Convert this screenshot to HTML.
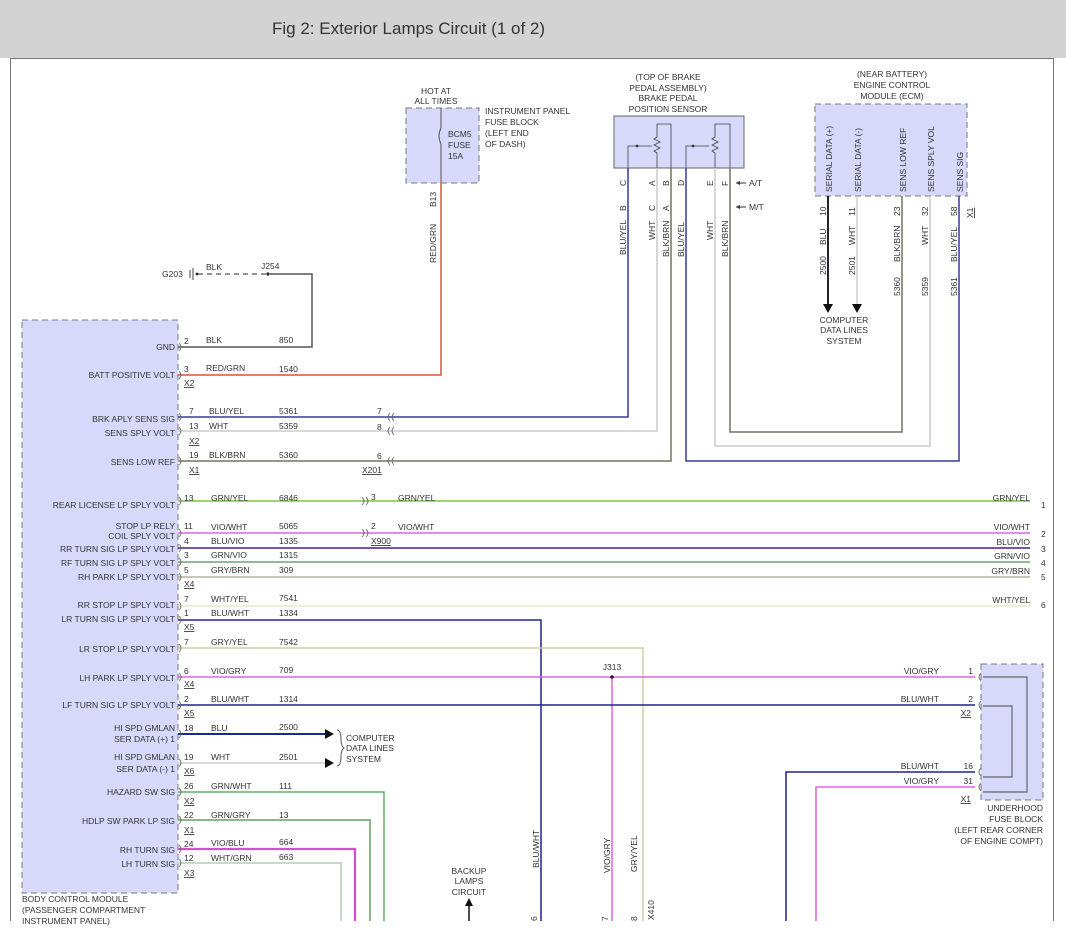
<!DOCTYPE html>
<html><head><meta charset="utf-8"><style>
html,body{margin:0;padding:0;background:#fff;width:1066px;height:932px;overflow:hidden}
svg{display:block}
text{font-family:"Liberation Sans",Arial,sans-serif;font-size:8.5px;fill:#333}
.t{font-size:17px;fill:#333}
.r{text-anchor:end}
.m{text-anchor:middle}
</style></head><body>
<svg width="1066" height="932" viewBox="0 0 1066 932" xmlns="http://www.w3.org/2000/svg">
<rect x="0" y="0" width="1066" height="58" fill="#d3d3d3"/>
<text x="272" y="34" class="t">Fig 2: Exterior Lamps Circuit (1 of 2)</text>
<polyline points="10.5,921 10.5,58.5 1053.5,58.5 1053.5,921" fill="none" stroke="#777" stroke-width="1"/>

<rect x="22" y="320" width="156" height="573" fill="#d8d8fb" stroke="#777" stroke-dasharray="6,4"/>
<text x="22" y="902">BODY CONTROL MODULE</text>
<text x="22" y="913">(PASSENGER COMPARTMENT</text>
<text x="22" y="924">INSTRUMENT PANEL)</text>

<rect x="406" y="108" width="73" height="75" fill="#d8d8fb" stroke="#777" stroke-dasharray="6,4"/>
<line x1="441" y1="108" x2="441" y2="128" stroke="#555"/>
<path d="M441,128 q-4,8 0,16" fill="none" stroke="#555"/>
<line x1="441" y1="144" x2="441" y2="183" stroke="#555"/>
<text x="448" y="137">BCM5</text><text x="448" y="148">FUSE</text><text x="448" y="159">15A</text>
<text x="436" y="94" class="m">HOT AT</text><text x="436" y="104" class="m">ALL TIMES</text>
<text x="485" y="114">INSTRUMENT PANEL</text><text x="485" y="125">FUSE BLOCK</text><text x="485" y="136">(LEFT END</text><text x="485" y="147">OF DASH)</text>
<text transform="translate(436,207) rotate(-90)">B13</text>
<text transform="translate(436,263) rotate(-90)">RED/GRN</text>

<text x="668" y="80" class="m">(TOP OF BRAKE</text>
<text x="668" y="91" class="m">PEDAL ASSEMBLY)</text>
<text x="668" y="101" class="m">BRAKE PEDAL</text>
<text x="668" y="112" class="m">POSITION SENSOR</text>
<rect x="614" y="116" width="130" height="52" fill="#d8d8fb" stroke="#666"/>
<g fill="none" stroke="#444" stroke-width="0.8">
<polyline points="628,168 628,146 652,146"/>
<path d="M657,168 V153 l-3,-2 6,-3 -6,-3 6,-3 -6,-3 3,-2 V124 H671 V168"/>
<polyline points="686,168 686,146 709,146"/>
<path d="M715,168 V153 l-3,-2 6,-3 -6,-3 6,-3 -6,-3 3,-2 V124 H730 V168"/>
</g>
<circle cx="637" cy="146" r="1.4" fill="#333"/><circle cx="693" cy="146" r="1.4" fill="#333"/>
<g font-size="8"><text transform="translate(626,186) rotate(-90)">C</text><text transform="translate(655,186) rotate(-90)">A</text><text transform="translate(669,186) rotate(-90)">B</text><text transform="translate(684,186) rotate(-90)">D</text><text transform="translate(713,186) rotate(-90)">E</text><text transform="translate(728,186) rotate(-90)">F</text>
<text transform="translate(626,211) rotate(-90)">B</text><text transform="translate(655,211) rotate(-90)">C</text><text transform="translate(669,211) rotate(-90)">A</text></g>
<text transform="translate(626,255) rotate(-90)">BLU/YEL</text>
<text transform="translate(655,240) rotate(-90)">WHT</text>
<text transform="translate(669,257) rotate(-90)">BLK/BRN</text>
<text transform="translate(684,257) rotate(-90)">BLU/YEL</text>
<text transform="translate(713,240) rotate(-90)">WHT</text>
<text transform="translate(728,257) rotate(-90)">BLK/BRN</text>
<text x="749" y="186">A/T</text><text x="749" y="210">M/T</text>
<line x1="736" y1="183" x2="746" y2="183" stroke="#333"/><path d="M736,183 l4,-2 v4z" fill="#333"/>
<line x1="736" y1="207" x2="746" y2="207" stroke="#333"/><path d="M736,207 l4,-2 v4z" fill="#333"/>

<text x="892" y="77" class="m">(NEAR BATTERY)</text>
<text x="892" y="88" class="m">ENGINE CONTROL</text>
<text x="892" y="99" class="m">MODULE (ECM)</text>
<rect x="815" y="104" width="152" height="92" fill="#d8d8fb" stroke="#777" stroke-dasharray="6,4"/>
<text transform="translate(832,192) rotate(-90)">SERIAL DATA (+)</text>
<text transform="translate(861,192) rotate(-90)">SERIAL DATA (-)</text>
<text transform="translate(906,192) rotate(-90)">SENS LOW REF</text>
<text transform="translate(934,192) rotate(-90)">SENS SPLY VOL</text>
<text transform="translate(963,192) rotate(-90)">SENS SIG</text>
<g font-size="8"><text transform="translate(826,216) rotate(-90)">10</text><text transform="translate(855,216) rotate(-90)">11</text><text transform="translate(900,216) rotate(-90)">23</text><text transform="translate(928,216) rotate(-90)">32</text><text transform="translate(957,216) rotate(-90)">58</text><text transform="translate(973,218) rotate(-90)" text-decoration="underline">X1</text>
<text transform="translate(826,245) rotate(-90)">BLU</text><text transform="translate(855,245) rotate(-90)">WHT</text><text transform="translate(900,262) rotate(-90)">BLK/BRN</text><text transform="translate(928,245) rotate(-90)">WHT</text><text transform="translate(957,262) rotate(-90)">BLU/YEL</text>
<text transform="translate(826,275) rotate(-90)">2500</text><text transform="translate(855,275) rotate(-90)">2501</text><text transform="translate(900,296) rotate(-90)">5360</text><text transform="translate(928,296) rotate(-90)">5359</text><text transform="translate(957,296) rotate(-90)">5361</text></g>
<line x1="828" y1="196" x2="828" y2="304" stroke="#223" stroke-width="2"/><path d="M823,304 h10 l-5,9z" fill="#111"/>
<line x1="857" y1="196" x2="857" y2="304" stroke="#ccc" stroke-width="1.5"/><path d="M852,304 h10 l-5,9z" fill="#111"/>
<text x="844" y="323" class="m">COMPUTER</text><text x="844" y="333" class="m">DATA LINES</text><text x="844" y="344" class="m">SYSTEM</text>

<g fill="none" stroke-width="1.5">
<polyline points="628,168 628,417 178,417" stroke="#3a3a9a"/>
<polyline points="657,168 657,431 178,431" stroke="#ccc"/>
<polyline points="671,168 671,461 178,461" stroke="#777060"/>
<polyline points="686,168 686,461 959,461 959,196" stroke="#3a3a9a"/>
<polyline points="715,168 715,446 930,446 930,196" stroke="#ccc"/>
<polyline points="730,168 730,432 902,432 902,196" stroke="#777060"/>
<polyline points="178,347 312,347 312,274 270,274" stroke="#555"/>
<polyline points="178,375 441,375 441,183" stroke="#d9553a"/>
</g>
<line x1="198" y1="274" x2="266" y2="274" stroke="#555" stroke-dasharray="5,4" stroke-width="1.2"/>
<circle cx="268" cy="274" r="1.6" fill="#222"/><circle cx="197" cy="274" r="1.4" fill="#222"/>
<line x1="190" y1="270" x2="190" y2="278" stroke="#444"/><line x1="193" y1="268" x2="193" y2="280" stroke="#444"/>
<text x="162" y="277">G203</text><text x="206" y="270">BLK</text><text x="261" y="269">J254</text>

<g fill="none" stroke-width="1.5">
<line x1="178" y1="501" x2="1030" y2="501" stroke="#7ec832"/>
<line x1="178" y1="533" x2="1030" y2="533" stroke="#e060e0"/>
<line x1="178" y1="548" x2="1030" y2="548" stroke="#4a2080"/>
<line x1="178" y1="562" x2="1030" y2="562" stroke="#70a070"/>
<line x1="178" y1="577" x2="1030" y2="577" stroke="#b8b0a0"/>
<line x1="178" y1="606" x2="1030" y2="606" stroke="#e8e8c8"/>
<polyline points="178,620 541,620 541,921" stroke="#202090"/>
<polyline points="178,648 643,648 643,921" stroke="#d0d0a0"/>
<line x1="178" y1="677" x2="975" y2="677" stroke="#e060e0"/>
<line x1="612" y1="677" x2="612" y2="921" stroke="#e060e0"/>
<line x1="178" y1="705" x2="975" y2="705" stroke="#202090"/>
<line x1="178" y1="734" x2="325" y2="734" stroke="#1a2a8a" stroke-width="2"/>
<line x1="178" y1="763" x2="325" y2="763" stroke="#ccc"/>
<polyline points="178,792 384,792 384,921" stroke="#60b060"/>
<polyline points="178,820 370,820 370,921" stroke="#60a060"/>
<polyline points="178,849 355,849 355,921" stroke="#d050d0" stroke-width="2.2"/>
<polyline points="178,863 341,863 341,921" stroke="#b0d0b0"/>
<polyline points="975,772 786,772 786,921" stroke="#202090"/>
<polyline points="975,787 816,787 816,921" stroke="#e060e0"/>
</g>
<path d="M325,729 l9,5 -9,5z" fill="#111"/><path d="M325,758 l9,5 -9,5z" fill="#111"/>
<path d="M337,730 q4,0 4,10 q0,6 3,8 q-3,2 -3,8 q0,10 -4,10" fill="none" stroke="#555"/>
<text x="346" y="741">COMPUTER</text><text x="346" y="751">DATA LINES</text><text x="346" y="762">SYSTEM</text>
<circle cx="612" cy="677" r="1.8" fill="#222"/><text x="612" y="670" class="m">J313</text>

<g fill="none" stroke="#666" stroke-width="0.8">
<path d="M179,343 q4,4 0,8 M179,371 q4,4 0,8 M179,413 q4,4 0,8 M179,427 q4,4 0,8 M179,457 q4,4 0,8 M179,497 q4,4 0,8 M179,529 q4,4 0,8 M179,544 q4,4 0,8 M179,558 q4,4 0,8 M179,573 q4,4 0,8 M179,602 q4,4 0,8 M179,616 q4,4 0,8 M179,644 q4,4 0,8 M179,673 q4,4 0,8 M179,701 q4,4 0,8 M179,730 q4,4 0,8 M179,759 q4,4 0,8 M179,788 q4,4 0,8 M179,816 q4,4 0,8 M179,845 q4,4 0,8 M179,859 q4,4 0,8"/>
<path d="M390,413 q-4,4 0,8 M394,413 q-4,4 0,8 M390,427 q-4,4 0,8 M394,427 q-4,4 0,8 M390,457 q-4,4 0,8 M394,457 q-4,4 0,8"/>
<path d="M362,497 q4,4 0,8 M366,497 q4,4 0,8 M362,529 q4,4 0,8 M366,529 q4,4 0,8"/>
<path d="M981,673 q-4,4 0,8 M981,701 q-4,4 0,8 M981,768 q-4,4 0,8 M981,783 q-4,4 0,8"/>
</g>

<g>
<text x="175" y="350" class="r">GND</text>
<text x="175" y="378" class="r">BATT POSITIVE VOLT</text>
<text x="175" y="422" class="r">BRK APLY SENS SIG</text>
<text x="175" y="436" class="r">SENS SPLY VOLT</text>
<text x="175" y="465" class="r">SENS LOW REF</text>
<text x="175" y="508" class="r">REAR LICENSE LP SPLY VOLT</text>
<text x="175" y="529" class="r">STOP LP RELY</text>
<text x="175" y="539" class="r">COIL SPLY VOLT</text>
<text x="175" y="552" class="r">RR TURN SIG LP SPLY VOLT</text>
<text x="175" y="566" class="r">RF TURN SIG LP SPLY VOLT</text>
<text x="175" y="580" class="r">RH PARK LP SPLY VOLT</text>
<text x="175" y="608" class="r">RR STOP LP SPLY VOLT</text>
<text x="175" y="622" class="r">LR TURN SIG LP SPLY VOLT</text>
<text x="175" y="652" class="r">LR STOP LP SPLY VOLT</text>
<text x="175" y="681" class="r">LH PARK LP SPLY VOLT</text>
<text x="175" y="708" class="r">LF TURN SIG LP SPLY VOLT</text>
<text x="175" y="731" class="r">HI SPD GMLAN</text>
<text x="175" y="742" class="r">SER DATA (+) 1</text>
<text x="175" y="760" class="r">HI SPD GMLAN</text>
<text x="175" y="772" class="r">SER DATA (-) 1</text>
<text x="175" y="795" class="r">HAZARD SW SIG</text>
<text x="175" y="824" class="r">HDLP SW PARK LP SIG</text>
<text x="175" y="853" class="r">RH TURN SIG</text>
<text x="175" y="867" class="r">LH TURN SIG</text>
</g>

<g>
<text x="184" y="344">2</text><text x="206" y="343">BLK</text><text x="279" y="343">850</text>
<text x="184" y="372">3</text><text x="206" y="371">RED/GRN</text><text x="279" y="372">1540</text><text x="184" y="386" text-decoration="underline">X2</text>
<text x="189" y="414">7</text><text x="209" y="414">BLU/YEL</text><text x="279" y="414">5361</text>
<text x="189" y="429">13</text><text x="209" y="429">WHT</text><text x="279" y="429">5359</text><text x="189" y="444" text-decoration="underline">X2</text>
<text x="189" y="458">19</text><text x="209" y="458">BLK/BRN</text><text x="279" y="458">5360</text><text x="189" y="473" text-decoration="underline">X1</text>
<text x="377" y="414">7</text><text x="377" y="430">8</text><text x="377" y="459">6</text><text x="362" y="473" text-decoration="underline">X201</text>
<text x="184" y="501">13</text><text x="211" y="501">GRN/YEL</text><text x="279" y="501">6846</text><text x="371" y="500">3</text><text x="398" y="501">GRN/YEL</text>
<text x="184" y="529">11</text><text x="211" y="530">VIO/WHT</text><text x="279" y="529">5065</text><text x="371" y="529">2</text><text x="398" y="530">VIO/WHT</text><text x="371" y="544" text-decoration="underline">X900</text>
<text x="184" y="544">4</text><text x="211" y="544">BLU/VIO</text><text x="279" y="544">1335</text>
<text x="184" y="558">3</text><text x="211" y="558">GRN/VIO</text><text x="279" y="558">1315</text>
<text x="184" y="573">5</text><text x="211" y="573">GRY/BRN</text><text x="279" y="573">309</text><text x="184" y="587" text-decoration="underline">X4</text>
<text x="184" y="602">7</text><text x="211" y="602">WHT/YEL</text><text x="279" y="601">7541</text>
<text x="184" y="616">1</text><text x="211" y="616">BLU/WHT</text><text x="279" y="616">1334</text><text x="184" y="630" text-decoration="underline">X5</text>
<text x="184" y="645">7</text><text x="211" y="645">GRY/YEL</text><text x="279" y="645">7542</text>
<text x="184" y="674">6</text><text x="211" y="674">VIO/GRY</text><text x="279" y="673">709</text><text x="184" y="687" text-decoration="underline">X4</text>
<text x="184" y="702">2</text><text x="211" y="702">BLU/WHT</text><text x="279" y="702">1314</text><text x="184" y="716" text-decoration="underline">X5</text>
<text x="184" y="731">18</text><text x="211" y="731">BLU</text><text x="279" y="730">2500</text>
<text x="184" y="760">19</text><text x="211" y="760">WHT</text><text x="279" y="760">2501</text><text x="184" y="774" text-decoration="underline">X6</text>
<text x="184" y="789">26</text><text x="211" y="789">GRN/WHT</text><text x="279" y="789">111</text><text x="184" y="804" text-decoration="underline">X2</text>
<text x="184" y="818">22</text><text x="211" y="818">GRN/GRY</text><text x="279" y="818">13</text><text x="184" y="833" text-decoration="underline">X1</text>
<text x="184" y="847">24</text><text x="211" y="846">VIO/BLU</text><text x="279" y="845">664</text>
<text x="184" y="861">12</text><text x="211" y="861">WHT/GRN</text><text x="279" y="860">663</text><text x="184" y="876" text-decoration="underline">X3</text>
</g>
<g>
<text x="1030" y="501" class="r">GRN/YEL</text><text x="1041" y="508">1</text>
<text x="1030" y="530" class="r">VIO/WHT</text><text x="1041" y="537">2</text>
<text x="1030" y="545" class="r">BLU/VIO</text><text x="1041" y="552">3</text>
<text x="1030" y="559" class="r">GRN/VIO</text><text x="1041" y="566">4</text>
<text x="1030" y="574" class="r">GRY/BRN</text><text x="1041" y="580">5</text>
<text x="1030" y="603" class="r">WHT/YEL</text><text x="1041" y="608">6</text>
</g>

<rect x="981" y="664" width="62" height="136" fill="#d8d8fb" stroke="#777" stroke-dasharray="6,4"/>
<polyline points="983,677 1027,677 1027,792 983,792" fill="none" stroke="#666" stroke-width="1.2"/>
<polyline points="983,706 1012,706 1012,777 983,777" fill="none" stroke="#666" stroke-width="1.2"/>
<text x="939" y="674" class="r">VIO/GRY</text><text x="973" y="674" class="r">1</text>
<text x="939" y="702" class="r">BLU/WHT</text><text x="973" y="702" class="r">2</text><text x="971" y="716" class="r" text-decoration="underline">X2</text>
<text x="939" y="769" class="r">BLU/WHT</text><text x="973" y="769" class="r">16</text>
<text x="939" y="784" class="r">VIO/GRY</text><text x="973" y="784" class="r">31</text><text x="971" y="802" class="r" text-decoration="underline">X1</text>
<text x="1043" y="811" class="r">UNDERHOOD</text><text x="1043" y="822" class="r">FUSE BLOCK</text><text x="1043" y="833" class="r">(LEFT REAR CORNER</text><text x="1043" y="844" class="r">OF ENGINE COMPT)</text>

<text transform="translate(539,868) rotate(-90)">BLU/WHT</text>
<text transform="translate(610,873) rotate(-90)">VIO/GRY</text>
<text transform="translate(637,872) rotate(-90)">GRY/YEL</text>
<text transform="translate(654,920) rotate(-90)">X410</text>
<text transform="translate(537,921) rotate(-90)">6</text><text transform="translate(608,921) rotate(-90)">7</text><text transform="translate(637,921) rotate(-90)">8</text>
<text x="469" y="874" class="m">BACKUP</text><text x="469" y="884" class="m">LAMPS</text><text x="469" y="895" class="m">CIRCUIT</text>
<line x1="469" y1="904" x2="469" y2="921" stroke="#111" stroke-width="1.5"/><path d="M465,906 l4,-8 4,8z" fill="#111"/>
</svg>
</body></html>
